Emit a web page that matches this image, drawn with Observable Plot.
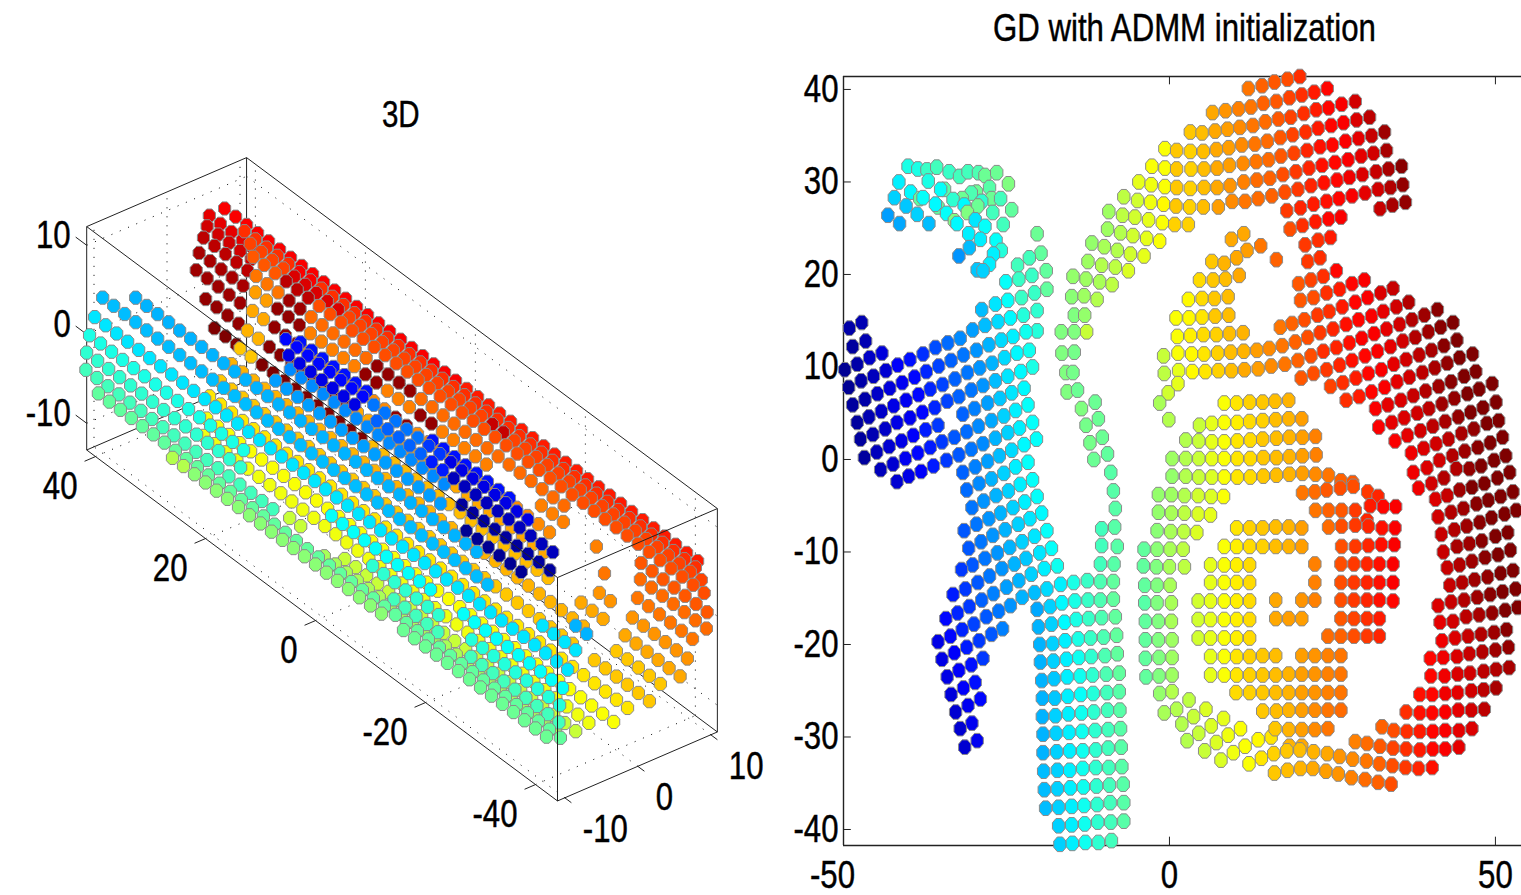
<!DOCTYPE html>
<html><head><meta charset="utf-8">
<script src="https://cdn.jsdelivr.net/npm/d3@7"></script>
<script src="https://cdn.jsdelivr.net/npm/@observablehq/plot@0.6"></script>
<style>html,body{margin:0;padding:0;background:#fff;overflow:hidden}#page{position:relative;width:1521px;height:895px;overflow:hidden}</style>
</head><body><div id="page"></div>
<script>
// Jet colour map, value 0..100
const jetStops=[0,12.5,37.5,62.5,87.5,100];
const jetColors=["#00007f","#0000ff","#00ffff","#ffff00","#ff0000","#7f0000"];
const fontName='"Liberation Sans",Arial,sans-serif';

// ---------- right panel: x,y,colour triples ----------
const swirl=[-40.1,31.7,40,-38.6,31.4,40,-37.2,31.3,43,-35.7,31.6,44,-33.8,31.1,43,-32.2,30.6,44,-30.9,31.1,44,-29.3,31,45,-28.3,30.7,48,-26.5,31,48,-24.7,29.8,50,-41.5,30,36,-37,30.1,40,-34.5,29.2,46,-35.1,29.2,38,-39.7,28.9,37,-42.2,28.3,33,-38.3,28.2,47,-37.8,28.3,38,-29.6,28.9,48,-30.4,28.8,45,-27.6,29.4,46,-31.8,28.2,48,-33.2,28.1,42,-27.3,28.2,48,-28.8,27.9,42,-25.9,28.2,44,-35.5,27.3,47,-35.9,27.6,37,-29.4,27.4,48,-31.5,27.5,37,-40.4,27.4,32,-24.2,27,47,-43.2,26.4,28,-38.7,26.5,33,-34.2,26.6,38,-31,26.7,50,-27.1,26.7,44,-41.4,25.5,29,-36.9,25.5,31,-33,25.8,50,-32.6,25.5,37,-29.8,25.9,35,-28.3,25.2,38,-25.5,25.4,44,-30.8,24.4,36,-29,23.8,36,-26.6,23.7,38,-30.7,22.9,31,-25.8,22.6,41,-27,22.2,36,-32.3,22,27,-27.6,21.1,36,-29.5,20.5,32,-28.6,20.4,33];
const armTop=[-20.3,24.4,48,-19.7,22.3,47,-21.5,21.8,44,-23.3,21,44,-18.9,20.4,47,-21.1,19.9,43,-23.1,19.5,43,-25.1,19.2,38,-18.8,18.4,47,-20.7,18,43,-22.7,17.5,43,-24.8,17.2,38,-26.7,16.8,35,-28.8,16.2,31,-20.3,16.1,42,-22.4,15.6,41,-24.4,15.3,37,-26.3,14.9,34,-28.3,14.5,31,-30.2,14,28];
const blueArm=[-20.3,13.9,41,-22,13.8,39,-24,13.3,36,-25.8,12.9,34,-27.7,12.4,30,-29.6,11.8,27,-31.6,11.3,24,-32.1,13.1,26,-34,12.6,23,-35.9,12.1,20,-37.8,11.4,17,-39.8,10.8,14,-41.7,10.2,12,-47.2,14.8,5,-49.1,14.2,4,-46.6,12.8,5,-48.6,12.2,3,-44.1,11.5,9,-46,11,7,-47.9,10.3,4,-49.8,9.7,2,
-21.5,11.8,39,-23.4,11.5,37,-25.3,11,34,-27.2,10.4,30,-29.1,9.9,27,-31,9.4,24,-33.5,10.7,22,-35.4,10.1,19,-37.3,9.5,16,-39.1,8.9,13,-41,8.3,11,-43.5,9.6,8,-45.4,9,6,-47.3,8.5,4,-49.2,7.8,2,
-21,10,40,-22.8,9.5,37,-24.8,9,35,-26.7,8.5,31,-28.6,8,27,-30.4,7.5,24,-32.9,8.7,22,-34.8,8.1,19,-36.7,7.6,16,-38.5,7,13,-40.4,6.4,11,-42.9,7.7,9,-44.8,7.1,7,-46.7,6.5,4,-48.6,5.9,3,
-22.3,7.7,37,-24.2,7.2,35,-26,6.6,32,-27.9,6.1,28,-29.9,5.5,25,-31.7,4.9,22,-32.3,6.8,22,-34.1,6.3,19,-36,5.6,16,-37.9,5.1,13,-39.8,4.5,11,-42.3,5.8,10,-44.2,5.2,7,-46.1,4.6,5,-47.9,4,3,
-21.7,5.9,38,-23.6,5.3,36,-25.4,4.7,33,-27.3,4.2,29,-29.3,3.6,26,-31.1,3,23,-33,2.4,21,-35.5,3.7,18,-37.4,3.2,15,-39.3,2.6,12,-41.8,4,10,-43.6,3.3,7,-45.5,2.7,5,-47.4,2.2,3,
-21,4,38,-23,3.4,36,-24.8,2.9,33,-26.7,2.3,30,-28.6,1.7,26,-30.4,1.1,24,-32.3,.5,21,-34.2,-.1,18,-36.2,-.7,15,-38.1,-1.3,12,-40,-1.8,10,-41.8,-2.4,8,
-34.9,1.9,18,-36.7,1.3,15,-38.6,.7,13,-40.5,.1,11,-42.4,-.5,8,-44.3,-1.1,6,-41.1,2,10,-43,1.4,8,-44.9,.8,6,-46.8,.2,3,
-20.4,2.2,38,-22.3,1.6,37,-24.2,1,34,-26.1,.4,31,-27.9,-.2,28,-29.8,-.8,25,-31.7,-1.4,22,
-21.7,-.3,38,-23.6,-.8,36,-25.4,-1.5,33,-27.3,-2.1,30,-29.2,-2.6,26,-31.1,-3.3,23,
-21,-2.2,38,-22.9,-2.7,36,-24.7,-3.4,33,-26.6,-3.9,30,-28.5,-4.5,27,-30.3,-5.2,24,
-20.3,-4,38,-22.2,-4.6,36,-24,-5.2,33,-25.9,-5.8,30,-27.7,-6.4,27,-29.6,-7,24,-31.5,-7.7,21,
-19.6,-5.8,37,-21.4,-6.4,35,-23.2,-7,33,-25.2,-7.6,30,-27.1,-8.2,27,-28.9,-8.9,24,-30.8,-9.6,21,
-18.8,-7.7,38,-20.7,-8.3,35,-22.6,-8.9,33,-24.5,-9.5,30,-26.4,-10.1,27,-28.3,-10.7,24,-30.2,-11.4,21,-31.9,-11.9,18,
-18.1,-9.6,38,-19.9,-10.1,35,-22,-10.7,32,-23.8,-11.3,30,-25.7,-11.8,27,
-17.2,-11.5,39,-19.2,-11.8,36,-21.2,-12.4,33,-23.1,-13.1,30,-25,-13.8,28,-27,-14.5,25,-28.8,-15.2,22,-30.7,-15.9,18,-32.5,-16.6,16,-34.3,-17.2,13,
-27.6,-12.6,24,-29.4,-13.3,21,-31.3,-14,18,-33.2,-14.6,15];
const blueLeg=[-18.8,-14,34,-20.7,-14.4,31,-22.6,-14.9,30,-24.4,-15.8,27,-26.2,-16.4,24,-28.1,-17,21,-30,-17.8,19,-31.8,-18.4,16,-33.6,-19.1,13,-35.5,-19.7,10,
-25.6,-18.3,25,-27.3,-18.9,21,-29.2,-19.6,18,-31.1,-20.3,15,-33,-20.9,12,-34.9,-21.6,10,
-28.6,-21.5,18,-30.4,-22.2,14,-32.3,-22.8,12,-34.1,-23.5,10,-29.8,-24.1,14,-31.6,-24.7,12,-33.5,-25.4,9,-29,-25.9,13,-30.9,-26.6,11,-32.8,-27.3,8,-30.3,-28.5,11,-32.1,-29.1,8,-29.5,-30.4,11,-31.4,-31.1,8];
const lowerColumn=[-16.7,-13.5,36,-14.7,-13.3,40,-12.6,-13.1,43,-10.6,-13.2,45,-8.6,-13.2,47,
-20.3,-16.2,29,-18.3,-15.9,33,-16.5,-15.5,37,-14.5,-15.3,40,-12.5,-15.2,43,-10.6,-15.2,45,-8.6,-15.1,47,
-20.1,-18.1,30,-18.1,-17.8,33,-16.1,-17.6,37,-14.3,-17.3,40,-12.4,-17.2,43,-10.4,-17.1,45,-8.3,-17,47,
-19.9,-20,30,-17.9,-19.9,33,-16,-19.6,36,-14,-19.4,40,-12.1,-19.3,43,-10.1,-19.2,45,-8.1,-19,47,
-19.8,-21.9,30,-17.8,-21.8,33,-15.8,-21.6,36,-13.9,-21.4,39,-12,-21.3,42,-9.9,-21.2,45,-8,-21,47,
-19.6,-23.9,30,-17.7,-23.7,32,-15.7,-23.5,36,-13.7,-23.4,39,-11.8,-23.3,42,-9.7,-23.2,45,-7.7,-23.1,47,
-19.5,-25.8,30,-17.6,-25.8,32,-15.6,-25.6,36,-13.6,-25.4,38,-11.7,-25.3,41,-9.6,-25.2,44,-7.7,-25.1,46,
-19.5,-27.8,30,-17.5,-27.7,33,-15.5,-27.5,36,-13.5,-27.4,39,-11.6,-27.3,42,-9.5,-27.1,44,-7.6,-27.1,46,
-19.4,-29.7,30,-17.4,-29.6,33,-15.4,-29.5,36,-13.4,-29.4,39,-11.4,-29.3,42,-9.4,-29.2,44,-7.5,-29.1,46,
-19.4,-31.7,30,-17.3,-31.6,33,-15.3,-31.5,36,-13.3,-31.5,39,-11.3,-31.4,42,-9.4,-31.2,44,-7.4,-31.1,46,
-19.3,-33.7,31,-17.2,-33.6,33,-15.3,-33.6,36,-13.3,-33.4,39,-11.3,-33.3,42,-9.3,-33.3,44,-7.3,-33.2,46,
-19.2,-35.7,31,-17.2,-35.6,33,-15.2,-35.5,36,-13.2,-35.4,39,-11.2,-35.3,42,-9.2,-35.2,44,-7.1,-35.1,46,
-19,-37.7,31,-17,-37.6,33,-15,-37.5,36,-13.1,-37.4,39,-11.1,-37.3,42,-9.1,-37.1,44,-7,-37.1,46,
-17,-39.6,33,-15,-39.5,36,-13,-39.4,39,-11,-39.2,42,-9,-39.2,44,-7,-39.1,46,
-16.8,-41.6,33,-14.9,-41.5,36,-12.9,-41.4,39,-10.9,-41.4,42,-8.9,-41.2,44];
const thinStrand=[-14.8,19.8,52,-15,17.6,51,-14.6,15.6,50,-14.6,13.8,50,-16.6,13.8,50,-16.5,11.5,50,-14.6,11.6,49,-15.9,9.4,50,-14.8,9.4,49,-15.7,7.3,50,-14.1,7.5,48,-11.4,6.2,48,-13.5,5.5,50,-10.9,4.4,48,-12.8,3.7,49,-10.3,2.4,48,-12.2,1.8,49,-9.5,.6,47,-11.6,0,48,-9,-1.4,46,-8.6,-3.4,46,-8.3,-5.3,46,-8.4,-7.3,46,-10.4,-7.5,44,-8,-9.4,46,-10.4,-9.3,44,-8.5,-11.3,46,-10.6,-11.3,44];
const greenBand=[-12.8,19.5,53,-10.7,19.2,54,-8.8,18.9,56,-11.1,17.3,55,-13.1,17.7,53,-13,15.6,52,-12.7,13.8,57,-12.5,21.4,53,-10.4,21,55,-8.3,20.8,56,-6.3,20.4,59,-11.9,23.4,52,-10,23,54,-8,22.6,55,-6,22.2,58,-3.9,22,60,-9.5,24.9,53,-7.5,24.5,55,-5.6,24.2,58,-3.5,23.9,60,-1.5,23.6,62,-9.3,26.8,53,-7.2,26.4,56,-5.3,26.2,58,-3.2,25.9,60,-1.1,25.6,62,.8,25.4,67,-7,28.4,56,-4.9,28,58,-2.9,27.8,61,-.9,27.6,63,1,27.4,68,-4.7,30,60,-2.8,29.7,61,-.7,29.5,62,1.1,29.4,68,-2.7,31.7,62,-.7,31.5,62,1.1,31.4,68,-.7,33.6,62,1.1,33.4,68];
const topArc=[12.1,40.1,76,14.2,40.4,78,16.1,40.8,79,18.1,41.1,80,20,41.4,83,
6.6,37.5,71,8.6,37.7,73,10.6,37.9,75,12.5,38.1,76,14.4,38.5,78,16.4,38.7,79,18.4,39.1,81,20.3,39.4,83,22.2,39.7,85,24.2,40.1,87,
3.2,35.4,68,5,35.3,69,7,35.5,71,8.9,35.7,72,10.8,35.9,74,12.8,36.1,76,14.7,36.5,77,16.7,36.8,79,18.6,37,81,20.6,37.4,83,22.5,37.8,85,24.4,38,87,26.4,38.4,88,28.5,38.7,92,
3.2,33.3,67,5.2,33.3,69,7.2,33.5,71,9.1,33.7,72,11.1,34,74,13.1,34.1,76,15,34.4,77,17,34.8,79,18.9,35.1,81,20.9,35.4,83,22.8,35.8,85,24.8,36.1,87,26.7,36.4,88,28.7,36.7,91,30.7,37,94,
3.3,31.4,67,5.3,31.4,69,7.3,31.5,71,9.2,31.8,72,11.3,32,74,13.3,32.2,76,15.2,32.4,77,17.1,32.8,79,19.1,33.1,81,21.1,33.4,84,23.1,33.8,86,25,34,87,27,34.4,88,29,34.7,90,31,35,93,33,35.4,97,
3.2,29.3,67,5.3,29.4,69,7.3,29.4,71,9.3,29.6,73,11.4,30,75,13.4,30.2,77,15.4,30.4,78,17.4,30.8,80,19.4,31.1,82,21.4,31.5,84,23.4,31.8,86,25.4,32.1,87,27.4,32.4,88,29.4,32.8,90,31.3,33.1,92,33.3,33.4,96,
3.1,27.3,67,5.2,27.3,69,7.5,27.3,72,9.6,27.9,74,11.6,27.9,76,13.6,28.2,77,15.7,28.5,78,17.7,28.9,80,19.7,29.2,82,21.7,29.6,84,23.7,29.9,86,25.7,30.2,87,27.6,30.5,89,29.6,30.8,91,31.7,31.1,93,33.6,31.4,96,35.6,31.7,99,
2.9,25.4,67,18,26.9,82,20.1,27.2,84,22.1,27.6,85,24.1,27.9,86,26,28.2,87,28,28.5,88,30,28.8,90,32,29.2,92,33.9,29.4,95,35.8,29.7,98,
18.5,24.9,80,20.4,25.3,83,22.4,25.7,85,24.4,26,87,26.3,26.2,88,32.3,27.1,93,34.2,27.5,96,36.2,27.8,98,
20.8,23.2,82,22.8,23.7,83,24.7,24,85,21.2,21.4,82,23.1,21.8,83,25.6,20.4,87];
const innerTop=[11.4,24.4,71,9.5,23.8,71,14,23.1,76,11.9,22.6,72,10.3,21.8,71,16.4,21.6,78,6.5,21.4,68,8.4,21.2,70,10.7,19.9,71,4.6,19.4,66,6.7,19.4,68,8.6,19.5,69,2.9,17.3,63,5,17.4,66,6.9,17.4,68,9,17.6,69,1,15.3,62,3,15.3,63,5,15.4,65,7,15.5,68,9.1,15.6,69,
1.2,13.3,62,3.2,13.4,64,5.2,13.5,66,7.2,13.5,67,9.2,13.6,69,11.3,13.7,70,
-.9,11.2,57,-.8,9.3,56,1.4,9.6,60,1.3,8.2,60,-.2,7.2,58,-1.5,6.1,54,-.1,4.3,55,
1.3,11.5,62,3.4,11.4,63,5.3,11.4,65,7.4,11.5,67,9.4,11.6,69,11.4,11.7,70,13.4,11.8,72,15.3,12,74,
3.5,9.5,63,5.5,9.5,65,7.5,9.6,67,9.5,9.6,69,11.5,9.7,71,13.6,9.8,72,15.6,10.1,74];
const redWing=[19.8,19,79,21.7,19.4,81,23.6,19.8,83,20.1,17.2,79,22.1,17.5,80,24.1,18,83,26.1,18.4,85,28,19,87,29.9,19.4,88,
17,14.3,76,18.8,14.7,78,20.7,15.1,80,22.7,15.6,82,24.5,16,83,26.5,16.5,85,28.5,17,87,30.4,17.5,88,32.4,18,91,34.3,18.5,93,
17.3,12.3,76,19.3,12.7,78,21.2,13.2,80,23.1,13.7,82,25.1,14.1,84,27.1,14.6,86,29,15.1,87,31,15.5,88,32.8,16,90,34.8,16.5,92,36.7,17,95,
17.7,10.3,76,19.7,10.7,78,21.7,11.2,80,23.6,11.7,83,25.6,12.1,84,27.6,12.6,86,29.5,13.1,88,31.4,13.6,88,33.3,14.1,90,35.3,14.6,92,37.2,15.1,95,39.1,15.6,97,41.1,16.2,99,
20.2,8.8,79,22.1,9.3,80,24.1,9.7,82,26.1,10.2,84,28,10.7,86,30,11.2,87,31.9,11.7,88,33.9,12.2,90,35.8,12.8,92,37.7,13.2,95,39.7,13.8,97,41.6,14.3,99,43.5,14.8,100,
24.7,7.9,81,26.6,8.3,83,28.6,8.8,85,30.5,9.3,87,32.5,9.7,88,34.4,10.3,90,36.3,10.8,92,38.3,11.3,94,40.2,11.8,96,42.1,12.3,99,44.1,12.9,100,
27.1,6.4,83,29.1,6.8,85,31,7.3,87,33,7.8,88,34.9,8.4,90,36.8,8.9,92,38.8,9.4,94,40.7,9.9,96,42.6,10.4,98,44.5,11,100,46.5,11.4,100,
31.6,5.5,88,33.5,5.9,90,35.5,6.4,91,37.4,6.9,93,39.3,7.4,95,41.3,7.9,97,43.2,8.4,99,45.2,9,100,47,9.5,100,
32.1,3.5,88,34.1,4,90,36,4.5,91,38,5,92,39.8,5.5,94,41.8,6,97,43.7,6.6,98,45.7,7.1,100,47.5,7.6,100,49.5,8.2,100,
34.6,2,88,36.5,2.6,90,38.5,3.1,92,40.4,3.6,94,42.3,4.1,96,44.3,4.6,98,46.2,5.1,100,48.1,5.6,100,50.1,6.2,100,
37.1,.7,89,39,1.2,91,40.9,1.7,92,42.8,2.2,94,44.8,2.8,96,46.7,3.3,98,48.7,3.9,100,50.5,4.2,100,
37.4,-1.4,89,39.5,-.9,91,41.4,-.1,92,43.4,.4,95,45.3,.9,97,47.3,1.3,99,49.2,1.8,100,51.1,2.4,100,
38.2,-3.1,89,40.2,-2.6,92,42.1,-2,95,44,-1,95,46,-1,98,47.8,-.7,100,49.8,-.1,100,51.6,.4,100,
44.5,-3.3,97,46.4,-3,100,48.3,-2.6,100,50.3,-2,100,52.2,-1.4,100];
const redArc=[40.8,-4.3,91,42.6,-3.9,93,
41.2,-6.2,92,43.2,-5.7,95,45.1,-5.3,97,47.1,-4.8,99,48.9,-4.4,100,50.8,-4,100,52.7,-3.5,100,
41.7,-8.1,93,43.7,-7.6,95,45.6,-7.2,97,47.6,-6.8,99,49.4,-6.3,100,51.4,-5.9,100,53.2,-5.5,100,
42,-10,93,44.1,-9.4,96,46,-9.1,97,47.9,-8.8,99,50,-8.3,100,51.9,-7.9,100,
42.6,-11.7,93,44.5,-11.4,95,46.4,-11,97,48.4,-10.6,99,50.4,-10.3,100,52.3,-9.8,100,
43,-13.6,93,44.9,-13.3,95,46.8,-13,97,48.8,-12.7,98,50.8,-12.3,100,52.7,-12,100,
41.2,-15.8,91,43.2,-15.4,93,45.2,-15.2,95,47.2,-14.9,97,49.2,-14.6,99,51.1,-14.3,100,53.1,-14,100,
41.5,-17.6,90,43.5,-17.5,92,45.5,-17,94,47.5,-16.8,96,49.5,-16.6,98,51.5,-16.3,100,53.4,-16,100,
41.8,-19.6,89,43.8,-19.3,91,45.8,-19.1,93,47.8,-18.9,95,49.8,-18.7,97,51.7,-18.4,99,
40,-21.5,87,42,-21.4,89,44.1,-21.3,91,46,-21,93,48,-20.8,95,50,-20.6,97,52,-20.3,98,
40.1,-23.4,87,42.2,-23.4,89,44.2,-23.2,91,46.1,-23.1,92,48.2,-22.9,94,50.1,-22.7,95,52.1,-22.5,96,
38.4,-25.4,86,40.3,-25.4,87,42.3,-25.3,89,44.2,-25.2,90,46.3,-25,92,48.2,-24.9,94,50.1,-24.7,96,
36.3,-27.3,83,38.4,-27.4,86,40.3,-27.4,87,42.3,-27.3,88,44.3,-27.1,90,46.3,-27.1,92,48.3,-27,94,
32.6,-28.9,78,34.4,-29.3,80,36.4,-29.4,83,38.4,-29.4,85,40.4,-29.4,87,42.3,-29.3,88,44.4,-29.3,90,46.4,-29.1,91,
28.5,-30.5,75,30.3,-30.7,77,32.3,-31,79,34.3,-31.2,81,36.3,-31.3,83,38.4,-31.4,85,40.4,-31.3,87,42.3,-31.3,88,44.4,-31.1,90,
24.2,-31.8,71,26.1,-32.1,73,28.1,-32.4,74,30.2,-32.6,76,32.2,-32.9,78,34.2,-33.1,80,36.2,-33.3,82,38.2,-33.4,84,40.3,-33.3,86,
16.1,-33.9,68,18.1,-33.6,69,20.1,-33.4,70,22,-33.4,71,24,-33.7,72,25.9,-34,73,27.9,-34.4,75,30,-34.6,77,32,-34.9,78,34,-35.1,80,
18.4,-31,70,20.3,-31,71,16,-31.8,67,18,-31.5,68,20,-31.4,69,22.1,-31.6,70];
const greenArc=[-1.7,-3.8,52,.3,-3.8,53,2.3,-3.9,55,4.4,-3.9,58,6.4,-4,59,8.3,-4,62,
-1.7,-5.7,52,.3,-5.8,54,2.3,-5.8,56,4.4,-5.9,59,6.3,-6,60,
-1.9,-7.7,51,.2,-7.8,54,2.2,-7.8,56,4.2,-7.9,59,
-3.9,-9.7,47,-1.9,-9.7,51,.1,-9.7,54,2.1,-9.7,56,
-4,-11.5,47,-2,-11.6,50,0,-11.6,54,2.3,-11.6,56,
-3.8,-13.6,47,-1.9,-13.6,50,.1,-13.6,54,
-3.8,-15.5,46,-1.9,-15.5,50,.3,-15.5,54,
-3.7,-17.5,47,-1.7,-17.5,50,.3,-17.5,54,
-3.7,-19.5,47,-1.7,-19.5,50,.4,-19.5,53,
-3.7,-21.5,47,-1.6,-21.4,50,.4,-21.4,53,
-3.6,-23.5,47,-1.6,-23.4,50,.4,-23.3,53,
-1.5,-25.3,52,.4,-25.1,55,3,-26,56,1.1,-27,55,-.8,-27.4,54,5.6,-27,59,3.7,-27.8,57,1.9,-28.6,55,8.3,-28,60,6.4,-28.8,59,4.5,-29.6,57,2.7,-30.4,55,10.9,-29.1,62,9,-29.8,61,7.2,-30.6,59,5.4,-31.5,57,13.6,-30.3,63,11.6,-31,62,9.8,-31.7,61,7.9,-32.5,59,15.6,-30,65,14.1,-32.3,65,12.2,-32.9,62,16.2,-29.1,68];
const innerBlock=[.4,.1,53,2.5,.1,55,4.5,.1,57,6.5,.1,60,8.4,.1,62,10.4,.1,65,12.4,.1,66,14.4,.2,68,16.4,.2,69,18.4,.3,70,20.4,.4,72,22.5,.5,75,
.4,-1.8,52,2.5,-1.8,55,4.5,-1.9,57,6.5,-1.9,59,8.4,-1.9,62,10.4,-1.9,65,12.4,-1.9,66,14.4,-1.8,68,16.4,-1.7,69,18.4,-1.6,70,20.4,-1.5,72,22.4,-1.6,74,24.4,-1.7,76,26.3,-2.3,78,28.1,-2.5,79,
2.5,2.1,55,4.5,2,57,6.5,1.9,60,8.4,1.9,62,10.4,2,65,12.4,2.1,66,14.3,2.2,68,16.4,2.3,69,18.4,2.4,70,20.4,2.4,72,22.4,2.5,75,
4.6,3.7,57,6.5,3.9,60,8.4,4,62,10.4,4,64,12.3,4.1,66,14.3,4.2,67,16.3,4.3,69,18.3,4.4,70,20.3,4.4,72,
8.4,6.1,62,10.3,6.1,65,12.3,6.2,67,14.3,6.2,68,16.2,6.3,69,18.3,6.4,70,
20.4,-3.6,76,22.3,-3.5,77,24.1,-3.3,79,26.2,-3.1,80,28.2,-2.9,80,30.4,-3.5,82,32,-4,84,
22.4,-5.5,76,24.4,-5.5,78,26.4,-5.5,79,28.5,-5.5,82,30.8,-5,85,32.8,-5.1,87,34.7,-5.1,88,30.3,-6.6,84,
10.3,-7.4,65,12.3,-7.4,67,14.3,-7.4,68,16.3,-7.3,69,18.3,-7.3,70,20.3,-7.4,72,24.4,-7.3,77,26.4,-7.2,80,28.5,-7.1,82,30.5,-7.2,84,32.6,-7.4,86,34.6,-7.4,88,
8.4,-9.4,62,10.3,-9.4,64,12.3,-9.4,66,14.3,-9.4,67,16.3,-9.4,69,18.3,-9.4,70,20.3,-9.4,72,26.4,-9.4,80,28.5,-9.4,82,30.5,-9.3,84,32.5,-9.2,86,34.5,-9.2,88,
6.3,-11.4,60,8.4,-11.4,62,10.3,-11.4,64,12.3,-11.4,66,22.3,-11.3,75,26.3,-11.3,80,28.3,-11.3,82,30.3,-11.3,84,32.2,-11.3,86,34.3,-11.3,88,
6.3,-13.3,60,8.4,-13.3,62,10.3,-13.3,64,12.3,-13.3,66,22.3,-13.3,75,26.3,-13.3,80,28.3,-13.3,82,30.3,-13.3,84,32.2,-13.3,86,34.3,-13.3,88,
4.4,-15.3,58,6.3,-15.3,60,8.4,-15.3,62,10.3,-15.3,64,12.3,-15.3,66,16.3,-15.2,71,20.3,-15.2,73,22.3,-15.2,75,26.3,-15.2,80,28.3,-15.2,82,30.3,-15.2,84,32.2,-15.2,86,34.3,-15.3,87,
4.4,-17.3,58,6.3,-17.3,60,8.4,-17.3,62,10.3,-17.3,64,12.3,-17.3,66,16.3,-17.2,71,18.3,-17.2,72,20.3,-17.2,72,26.3,-17.2,79,28.3,-17.2,81,30.3,-17.2,83,32.2,-17.2,85,
4.4,-19.3,58,6.3,-19.3,60,8.4,-19.3,62,10.3,-19.3,64,12.3,-19.3,66,24.3,-19.1,77,26.3,-19.1,78,28.3,-19.1,80,30.3,-19.1,82,32.2,-19.1,84,
6.3,-21.3,60,8.4,-21.3,62,10.3,-21.3,65,12.3,-21.3,67,14.3,-21.2,68,16.3,-21.2,69,20.3,-21.2,72,22.3,-21.2,73,24.3,-21.2,75,26.3,-21.2,76,
6.3,-23.3,60,8.4,-23.3,62,10.3,-23.3,65,12.3,-23.3,67,14.3,-23.3,68,16.3,-23.3,69,18.3,-23.2,70,20.3,-23.2,72,22.3,-23.2,73,24.3,-23.2,75,26.3,-23.2,76,
10.2,-25.2,66,12.3,-25.2,67,14.3,-25.2,68,16.3,-25.2,69,18.3,-25.2,70,20.3,-25.2,72,22.3,-25.2,73,24.3,-25.2,75,26.3,-25.2,76,
14.3,-27.2,68,16.4,-27.2,69,18.3,-27.1,70,20.3,-27.1,72,22.3,-27.1,74,24.3,-27.1,76,26.3,-27.1,77,
18.3,-29.2,70,20.3,-29.2,72,22.3,-29.2,74,24.3,-29.1,76];

const xTicksRight=[-50,0,50];
const yTicksRight=[40,30,20,10,0,-10,-20,-30,-40];
const rightX=[-50,54];
const rightY=[-41.73,41.4];

// ---------- left panel: strands along the x axis: [y, z, colour, x values] ----------
const redBack=[[9.7,5.7,88,[44,42,40,38,36,34,32,30,28,26,24,22,20,18,16,14,12,10,8,6,4,2]],[9.7,5.7,85,[0,-2,-4,-6,-8,-10,-12,-14,-16,-18,-20,-22,-24,-26,-28,-30,-32,-34,-36,-38,-40,-42]]];
const darkSheet=[
[6.1,7.1,90,[42,40,38,36,34]],
[5.8,6,92,[42,40,38,36,34]],
[5.3,4.9,94,[42,40,38,36,34]],
[4.7,3.4,96,[42,40,38,36,34]],
[4.3,1.6,97,[42,40,38,36,34]],
[5.6,-2.1,98,[42,40,38,36]],
[6.8,-5.8,100,[42,40,38]]];
const orangeSheet=[
[9.4,5.1,83,[40,38,36,34,32]],
[9.4,5.1,88,[30,28]],
[9.4,5.1,83,[26,24,22,20,18,16,14,12,10,8,6,4,2,0,-2,-4,-6,-8,-10,-12,-14,-16,-18,-20,-22,-24,-26,-28,-30,-32,-34,-36,-38,-40,-42]],
[10.2,3.4,81,[40,38,36,34]],
[10.2,3.4,91,[32,30,28,26,24]],
[10.2,3.4,81,[22,20,18,16,14,12,10,8,6,4,2,0,-2]],
[10.2,3.4,93,[-4,-6]],
[10.2,3.4,81,[-8,-10,-12,-14,-16,-18,-20,-22,-24,-26,-28,-30,-32,-34,-36,-38,-40,-42]],
[10.6,1.8,79,[40,38,36]],
[10.6,1.8,94,[34,32,30]],
[10.6,1.8,80,[28,26,24,22,20,18,16,14,12,10,8,6,4,2,0,-2,-4,-6,-8,-10,-12,-14,-16,-18,-20,-22,-24,-26,-28,-30,-32,-34,-36,-38,-40,-42]],
[11,-.5,76,[40,38,36]],
[11,-.5,97,[34,32]],
[11,-.5,77,[30,28,26,24,22,20]],
[11,-.5,98,[18,16,14,12]],
[11,-.5,77,[10,8,6,4,2,0,-2,-4,-6,-8,-10,-12,-14,-16]],
[11,-.5,79,[-30,-32,-34,-36,-38,-40,-42]],
[10.9,-2.3,72,[40,38]],
[10.9,-2.3,98,[36,34,32]],
[10.9,-2.3,75,[30,28,26,24,22]],
[10.9,-2.3,98,[20,18]],
[10.9,-2.3,75,[16,14,12]],
[10.9,-2.3,98,[10,8]],
[10.9,-2.3,75,[6,4,2,0,-2,-12,-14,-16,-22]],
[10.9,-2.3,77,[-30,-32,-34,-36,-38,-40,-42]],
[9,-2.8,71,[38,36]],
[9,-2.8,98,[34,32,30]],
[9,-2.8,74,[28,26,24,22,20,18,16,14]],
[9,-2.8,98,[12,10]],
[9,-2.8,74,[8,6,4,2,0,-2,-4,-6,-8,-10,-12,-14,-16]],
[9,-2.8,76,[-26,-32,-34,-36,-38,-40,-42]],
[8.3,-4.75,70,[38,36]],
[8.3,-4.75,99,[34,32,30,28,26,24,22,20]],
[8.3,-4.75,71,[18,16,14,12,10,8,6,4,2,0,-2,-4,-6,-8,-10,-12,-14,-16]],
[8.3,-4.75,73,[-26,-28,-32,-34,-36,-38,-40,-42]],
[7.3,-6.4,68,[38,36]],
[7.3,-6.4,100,[34,32,30,28,26,24,22,20,18,16]],
[7.3,-6.4,69,[14,12,10,8,6,4,2,0,-2,-4,-6,-8,-10,-12,-14,-16,-18]],
[7.3,-6.4,71,[-24,-26,-28,-32,-34,-36,-38,-40,-42]]];
const goldSheet=[
[4.6,-6.3,70,[36,34,32,30,28,26,24,22,20,18,16,14,12,10,8,6,4,2,0,-2,-4,-6,-8,-10,-12,-14,-16,-18,-20,-22,-24,-26,-28]],
[4.6,-6.3,68,[-34,-36,-38,-40,-42]],
[3.1,-7.7,68,[36,34,32,30,28,26,24,22,20,18,16,14,12,10,8,6,4,2,0,-2,-4,-6,-8,-10,-12,-14,-16,-18,-20,-22,-24,-26,-28,-32,-34,-36,-38,-40,-42]],
[.1,-7.4,65,[34,32,30,28,26,24,22,20,18,16,14,12,10,8,6,4,2,0,-2,-4,-6,-8,-10,-12,-14,-16,-18,-20,-22,-24,-26,-28,-30,-32,-34,-36,-38,-40,-42]],
[-1.8,-8.3,62,[32,30,28,26,24,22,20,18,16,14,12,10,8,6,4,2,0,-2,-4,-6,-8,-10,-12,-14,-16,-18,-20,-22,-24,-26,-28,-30,-32,-34,-36,-38,-40,-42]],
[-5.2,-7.2,61,[28,26,24,22,20,18,16,14,12,10,8,6,4,2,0,-2,-4,-6,-8,-10,-12,-14,-16,-18,-20,-22,-24,-26,-28,-30,-32,-34,-36,-38,-40,-42]],
[-7,-7.5,57,[10,8,0,-2,-4,-6,-8,-10,-12,-14,-16,-18,-20,-22,-24,-26,-28,-30,-32,-34,-36,-38,-40,-42]],
[-9.8,-6.2,54,[0,-2,-4,-6,-8,-10,-12,-14,-16,-18,-20,-22,-24,-26,-28,-30,-32,-34,-36,-38,-40,-42]]];
const blueSheet=[
[-2.4,4.8,26,[16,14,12,10,8,6,4,2,0,-2,-4,-6,-8,-10,-12]],
[-2.9,2.8,28,[18,16,14,12,10,8,6,4,2,0,-2,-4,-6,-8,-10,-12]],
[.5,5.9,14,[18,16,14,12,10,8,6,-6,-8,-10,-12,-14,-16,-18,-20]],
[0,5.5,13,[20,18,16,14,12,10,8,6]],
[0,5.5,24,[4,2,0,-2,-4]],
[0,5.5,18,[-6,-8]],
[0,5.5,10,[-10,-12,-14,-16,-18,-20,-22,-24]],
[-1.1,5,10,[18,16,14,12,10,8,6]],
[-1.1,5,22,[2,0,-2,-4,-6]],
[-1.1,5,15,[-8,-10]],
[-1.1,5,6,[-12,-14,-16,-18,-20,-22,-24,-26,-28,-30]],
[-1.5,3.1,3,[-14,-16,-18,-20,-22,-24,-26,-28,-30]],
[-2.4,1.4,2,[-16,-18,-20,-22,-24,-26]]];
const cyanSheet=[
[-5.5,2.9,30,[40,38,36,34,32,30,28,26,24,22,20,18,16,14,12,10,8,6,4,2,0,-2,-4,-6,-8,-10,-12,-14,-16,-18,-20,-22,-40,-42]],
[-7,1.6,31,[44,42,40,38,36,34,32,30,28,26,24,22,20,18,16,14,12,10,8,6,4,2,0,-2,-4,-6,-8,-10,-12,-14,-16,-18,-20,-22,-24,-26]],
[-7,1.6,35,[-36,-38,-40,-42]],
[-8.1,-.2,35,[44,42,40,38,36,34,32,30,28,26,24,22,20,18,16,14,12,10,8,6,4,2,0,-2,-4,-6,-8,-10,-12,-14,-16,-18,-20,-22,-24,-26,-28,-30,-32,-34,-36,-38,-40,-42]],
[-8.8,-2,40,[44,42,40,38,36,34,32,30,28,26,24,22,20,18,16]],
[-8.8,-2,38,[0,-2,-4,-6,-8,-10,-12,-14,-16,-18,-24,-26,-28,-30,-32,-34,-36,-38,-40,-42]],
[-9.2,-3.8,42,[44,42,40,38,36,34,32,30,28,26,24,22,20,18,16,-8,-10,-12,-14,-16,-18,-20]],
[-9.2,-3.8,41,[-26,-28,-30,-32,-34,-36,-38,-40,-42]],
[-9.3,-5.7,44,[44,42,40,38,36,34,32,30,28,26,24,22,20,18,16,14,12,10,-12,-14,-16,-18,-20,-26,-28,-30,-32,-34,-36,-38,-40,-42]],
[-9.1,-7.5,47,[42,40,38,36,34,32,30,28,26,24,22,20,18,16,14,12,10,8,6,4,2,0,-2,-4,-6,-8,-10,-12,-14,-16,-18,-20,-22,-24,-26,-28,-30,-32,-34,-36,-38,-40,-42]],
[-11,-6.7,55,[26,24]],
[-11,-6.7,51,[22,20,18,16,14,12,10,8,6,4,2,0,-2,-4,-6,-8,-10,-12]],
[-11,-6.7,48,[-16,-18,-20,-22,-24,-26,-28,-30,-32,-34,-36,-38,-40,-42]]];

const xTicks3D=[40,20,0,-20,-40];
const yTicks3D=[-10,0,10];
const zTicks3D=[-10,0,10];
const boxX=[-44,41.6];
const boxY=[-11,10.9];
const boxZ=[-13,12.1];

// ---------- build tables ----------
const triples=a=>d3.range(0,a.length,3).map(i=>({x:a[i],y:a[i+1],c:a[i+2]}));
const rightDots=[swirl,armTop,blueArm,blueLeg,lowerColumn,thinStrand,greenBand,topArc,innerTop,redWing,redArc,greenArc,innerBlock].flatMap(triples);
const strandDots=s=>s.flatMap(([y,z,c,xs])=>xs.map(x=>({x,y,z,c})));
const leftDots=[redBack,darkSheet,orangeSheet,goldSheet,blueSheet,cyanSheet].flatMap(strandDots);

// oblique view of the 3-D axes
const U=p=>-5.5*p[0]+7.3*p[1];
const V=p=>4.1*p[0]+3.15*p[1]+8.9*p[2];
const U3=d=>U([d.x,d.y,d.z]);
const V3=d=>V([d.x,d.y,d.z]);
const seg=(a,b)=>({x1:U(a),y1:V(a),x2:U(b),y2:V(b)});
const [x0,x1]=boxX,[y0,y1]=boxY,[z0,z1]=boxZ;
const backEdges=[
 [[x1,y0,z0],[x0,y0,z0]],[[x0,y0,z0],[x0,y1,z0]],[[x0,y1,z0],[x1,y1,z0]],[[x1,y1,z0],[x1,y0,z0]],
 [[x1,y0,z1],[x1,y1,z1]],[[x1,y1,z1],[x0,y1,z1]],[[x1,y0,z0],[x1,y0,z1]],[[x1,y1,z0],[x1,y1,z1]],[[x0,y1,z0],[x0,y1,z1]]
].map(e=>seg(...e));
const frontEdges=[[[x1,y0,z1],[x0,y0,z1]],[[x0,y0,z1],[x0,y1,z1]],[[x0,y0,z0],[x0,y0,z1]]].map(e=>seg(...e));
const grid=[
 ...xTicks3D.flatMap(t=>[seg([t,y0,z0],[t,y1,z0]),seg([t,y1,z0],[t,y1,z1])]),
 ...yTicks3D.flatMap(t=>[seg([x0,t,z0],[x1,t,z0]),seg([x1,t,z0],[x1,t,z1])]),
 ...zTicks3D.flatMap(t=>[seg([x1,y0,t],[x1,y1,t]),seg([x1,y1,t],[x0,y1,t])])
];
const tickSegs=[
 ...xTicks3D.map(t=>seg([t,y0,z0],[t,y0-1.5,z0])),
 ...yTicks3D.map(t=>seg([x0,t,z0],[x0-1.2,t,z0])),
 ...zTicks3D.map(t=>seg([x1,y0,t],[x1+2,y0,t]))
];
const colorOpt={type:"linear",domain:jetStops,range:jetColors,interpolate:"rgb"};
// low-resolution marker: an octagon, taller than wide
const octagon=(rx,ry)=>({draw(ctx){
  const k=.42;
  ctx.moveTo(-rx*k,-ry);ctx.lineTo(rx*k,-ry);ctx.lineTo(rx,-ry*k);ctx.lineTo(rx,ry*k);
  ctx.lineTo(rx*k,ry);ctx.lineTo(-rx*k,ry);ctx.lineTo(-rx,ry*k);ctx.lineTo(-rx,-ry*k);ctx.closePath();
}});
const dotOpt={fill:"c",stroke:"#8a8a8a",strokeWidth:1,r:6.4};
const FS=38;
const linkOpt=d=>({x1:"x1",y1:"y1",x2:"x2",y2:"y2",stroke:"#222",strokeWidth:1,...d});
const label=(arr,pt,o)=>Plot.text(arr,{x:t=>U(pt(t)),y:t=>V(pt(t)),text:t=>String(t),fontSize:FS,...o});

const left=Plot.plot({
 width:770,height:895,margin:0,
 x:{domain:[-395.3,374.7],axis:null},
 y:{domain:[-425.3,469.7],axis:null},
 color:colorOpt,
 style:{position:"absolute",left:"0",top:"0",background:"transparent",overflow:"visible",fontFamily:fontName,maxWidth:"none"},
 marks:[
  Plot.link(grid,linkOpt({stroke:"#000",strokeDasharray:"1 8"})),
  Plot.link(backEdges,linkOpt({})),
  Plot.link(tickSegs,linkOpt({})),
  Plot.dot(leftDots,{x:U3,y:V3,...dotOpt,symbol:octagon(6.1,6.6)}),
  Plot.link(frontEdges,linkOpt({})),
  label(xTicks3D,t=>[t,y0,z0],{textAnchor:"end",dx:-18,dy:30}),
  label(yTicks3D,t=>[x0,t,z0],{textAnchor:"start",dx:18,dy:32}),
  label(zTicks3D,t=>[x1,y0,t],{textAnchor:"end",dx:-16,dy:-9}),
  Plot.text(["3D"],{x:[U([0,0,0])+5],y:[469.7-115],text:d=>d,fontSize:36})
 ]
});

const axisCommon={tickSize:0,fontSize:FS,tickFormat:d=>String(d),label:null};
const right=Plot.plot({
 width:751,height:895,marginLeft:73,marginRight:0,marginTop:76,marginBottom:50,
 x:{domain:rightX,axis:null},
 y:{domain:rightY,axis:null},
 color:colorOpt,
 style:{position:"absolute",left:"770px",top:"0",background:"transparent",overflow:"visible",fontFamily:fontName,maxWidth:"none"},
 marks:[
  Plot.ruleX([-50],{stroke:"#222",strokeWidth:1.4}),
  Plot.ruleY([rightY[0],rightY[1]],{stroke:"#222",strokeWidth:1.4}),
  Plot.ruleX(xTicksRight,{y1:rightY[0],y2:rightY[0]+.9,stroke:"#222"}),
  Plot.ruleX(xTicksRight,{y1:rightY[1],y2:rightY[1]-.9,stroke:"#222"}),
  Plot.ruleY(yTicksRight,{x1:-50,x2:-48.8,stroke:"#222"}),
  Plot.axisX([-50],{anchor:"bottom",tickPadding:16,dx:-11,...axisCommon}),
  Plot.axisX([0,50],{anchor:"bottom",tickPadding:16,...axisCommon}),
  Plot.axisY(yTicksRight,{anchor:"left",tickPadding:5,...axisCommon}),
  Plot.dot(rightDots,{x:"x",y:"y",...dotOpt,symbol:octagon(6.2,7.3)}),
  Plot.text(["GD with ADMM initialization"],{x:[2.3],y:[46.6],text:d=>d,fontSize:FS})
 ]
});
const page=document.getElementById("page");
page.append(left,right);
// the reference type is a condensed, heavy sans: narrow every label, keep it real text
page.querySelectorAll("text").forEach(t=>{
  const targets=t.querySelectorAll("tspan").length?t.querySelectorAll("tspan"):[t];
  targets.forEach(el=>{
    const w=el.getComputedTextLength();
    if(w>0){el.setAttribute("textLength",(w*.82).toFixed(1));el.setAttribute("lengthAdjust","spacingAndGlyphs");}
  });
  t.style.stroke="#000";t.style.strokeWidth=".45px";
});
</script></body></html>
